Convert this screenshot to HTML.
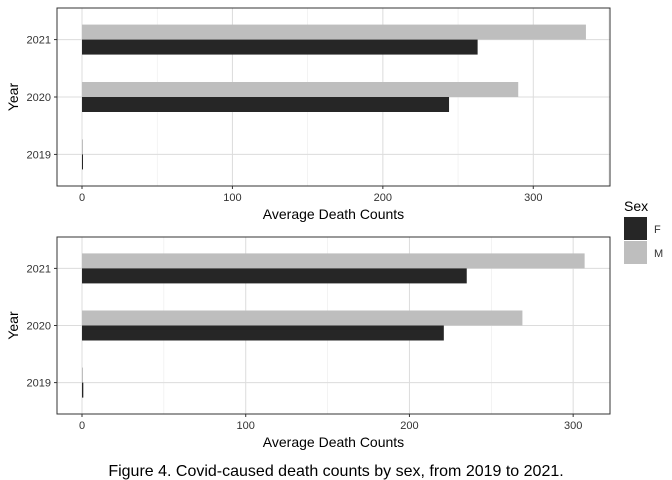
<!DOCTYPE html>
<html><head><meta charset="utf-8"><style>
body{margin:0;background:#fff;}
svg{font-family:"Liberation Sans",sans-serif;display:block;}
</style></head><body>
<svg id="c" width="672" height="480"></svg>
<script>
const years = ["2019","2020","2021"];
const topF = [0.6, 244, 263];
const topM = [0.3, 290, 335];
const topTicks = [0,100,200,300];
const botF = [0.8, 221, 235];
const botM = [0.4, 269, 307];
const botTicks = [0,100,200,300];

const NS="http://www.w3.org/2000/svg";
const svg=document.getElementById('c');
function el(t,a,p){const e=document.createElementNS(NS,t);for(const k in a)e.setAttribute(k,a[k]);(p||svg).appendChild(e);return e;}

function panel(name, top, bottom, xMax, F, M, ticks){
  const L=57,R=610;
  const x0=82, scale=(R-x0)/(xMax);
  const X=v=>x0+v*scale;
  const band=(bottom-top)/3.1;
  const Y=i=>bottom-(i+0.55)*band;
  const g=el('g',{});
  
  
  // minor grid
  for(let i=0;i<ticks.length;i++){
    const m=ticks[i]+50;
    if(X(m)<R) el('line',{x1:X(m),x2:X(m),y1:top,y2:bottom,stroke:'#ebebeb','stroke-width':0.6},g);
  }
  ticks.forEach(t=>{el('line',{x1:X(t),x2:X(t),y1:top,y2:bottom,stroke:'#dcdcdc','stroke-width':1},g);});
  years.forEach((y,i)=>{el('line',{x1:L,x2:R,y1:Y(i),y2:Y(i),stroke:'#dcdcdc','stroke-width':1},g);});
  const bh=15;
  years.forEach((y,i)=>{
    const m=el('rect',{x:X(0),y:Y(i)-bh,width:Math.max(1,X(M[i])-X(0)),height:bh,fill:'#bebebe'},g);
    
    
    const f=el('rect',{x:X(0),y:Y(i),width:Math.max(1,X(F[i])-X(0)),height:bh,fill:'#262626'},g);
    
    
    const lab=el('text',{x:L-6,y:Y(i)+4,'text-anchor':'end','font-size':11,fill:'#333'},g);
    lab.textContent=y;
    
    
    el('line',{x1:L-3,x2:L,y1:Y(i),y2:Y(i),stroke:'#333'},g);
  });
  el('rect',{x:L,y:top,width:R-L,height:bottom-top,fill:'none',stroke:'#333','stroke-width':1},g);
  ticks.forEach(t=>{
    el('line',{x1:X(t),x2:X(t),y1:bottom,y2:bottom+3,stroke:'#333'},g);
    const tx=el('text',{x:X(t),y:bottom+15,'text-anchor':'middle','font-size':11,fill:'#333'},g);
    tx.textContent=t;
    
    
  });
  const xt=el('text',{x:(L+R)/2,y:bottom+33,'text-anchor':'middle','font-size':14,fill:'#000'},g);
  xt.textContent='Average Death Counts';
  
  
  const yt=el('text',{x:18,y:(top+bottom)/2,'text-anchor':'middle','font-size':14,fill:'#000',transform:`rotate(-90 18 ${(top+bottom)/2})`},g);
  yt.textContent='Year';
  
  
}
panel('top-panel',8,186,351,topF,topM,topTicks);
panel('bottom-panel',237,414,322.5,botF,botM,botTicks);

const lg=el('g',{});


const lt=el('text',{x:624,y:211,'font-size':14},lg);lt.textContent='Sex';
el('rect',{x:624,y:217,width:23,height:23,fill:'#262626'},lg);
el('rect',{x:624,y:241,width:23,height:23,fill:'#bebebe'},lg);
const l1=el('text',{x:654,y:233,'font-size':11,fill:'#333'},lg);l1.textContent='F';


const l2=el('text',{x:654,y:257,'font-size':11,fill:'#333'},lg);l2.textContent='M';



const cap=el('text',{x:336,y:476,'text-anchor':'middle','font-size':16,fill:'#000'});
cap.textContent='Figure 4. Covid-caused death counts by sex, from 2019 to 2021.';


</script>
</body></html>
